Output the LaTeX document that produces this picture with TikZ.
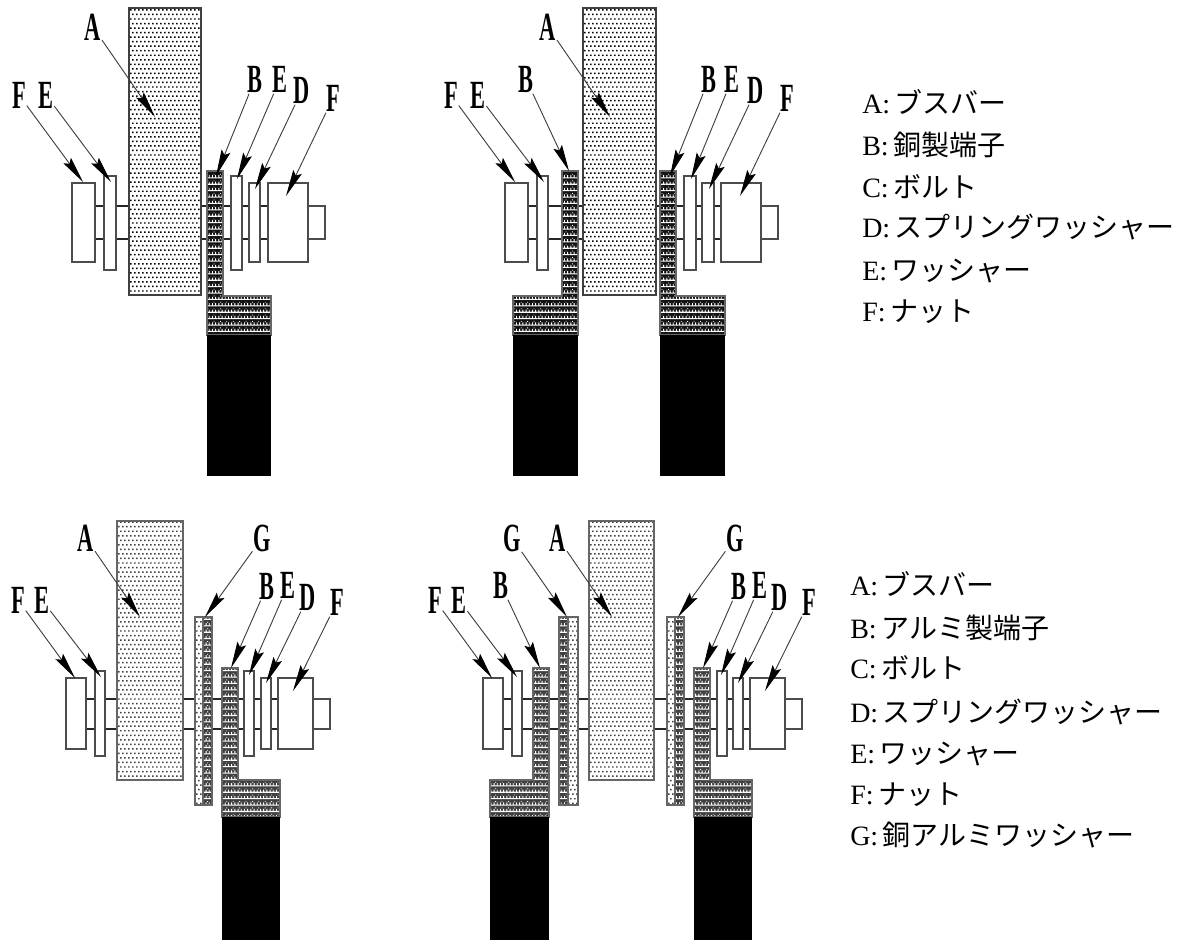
\documentclass[tikz,border=0pt]{standalone}
\usepackage{fontspec}
\setmainfont{Liberation Serif}
\newfontfamily\cjk{Noto Sans CJK JP}
\usetikzlibrary{arrows.meta,patterns}
\pgfdeclarepatternformonly{dotsA}{\pgfqpoint{-0.1pt}{-0.1pt}}{\pgfqpoint{3.1pt}{6.9pt}}{\pgfqpoint{3pt}{6.8pt}}{
  \pgfpathrectangle{\pgfqpoint{0pt}{0pt}}{\pgfqpoint{1.3pt}{1.1pt}}
  \pgfpathrectangle{\pgfqpoint{1.5pt}{3.4pt}}{\pgfqpoint{1.3pt}{1.1pt}}
  \pgfusepath{fill}}
\pgfdeclarepatternformonly{meshB}{\pgfqpoint{-0.1pt}{-0.1pt}}{\pgfqpoint{4.9pt}{4.9pt}}{\pgfqpoint{4.8pt}{4.8pt}}{
  \pgfpathrectangle{\pgfqpoint{0pt}{0pt}}{\pgfqpoint{4.8pt}{0.8pt}}
  \pgfpathrectangle{\pgfqpoint{0.6pt}{0.8pt}}{\pgfqpoint{0.7pt}{1.6pt}}
  \pgfpathrectangle{\pgfqpoint{3pt}{0.8pt}}{\pgfqpoint{0.7pt}{1.6pt}}
  \pgfpathrectangle{\pgfqpoint{1.8pt}{2.8pt}}{\pgfqpoint{0.6pt}{0.6pt}}
  \pgfusepath{fill}}
\tikzset{
  x=0.75pt,y=-0.75pt,
  part/.style={draw=black!70,line width=1pt,fill=white},
  bolt/.style={draw=black!85,line width=0.9pt},
  barA/.style={draw=black!75,line width=1pt,pattern=dotsA,pattern color=black},
  barB/.style={draw=black!60,line width=1pt,pattern=dotsA,pattern color=black!75},
  lbl/.style={font=\bfseries\fontsize{30}{30}\selectfont,xscale=.56,yscale=1,inner sep=1pt,text depth=0pt},
  ldr/.style={draw=black!75,line width=0.7pt,-{Stealth[length=20pt,width=7pt,inset=3pt,color=black]}},
  legend/.style={font=\fontsize{21}{24}\selectfont,anchor=base west,inner sep=0pt},
}
\newcommand{\meshfill}[2]{\fill[#1] #2; \fill[pattern=meshB,pattern color=white] #2; \draw[draw=black!60,line width=0.8pt] #2;}
\newcommand{\dotbar}[2]{\fill[white] #2; \draw[#1] #2;}
\newcommand{\cj}[1]{\kern3.5pt{\cjk #1}}
\begin{document}
\begin{tikzpicture}
\useasboundingbox (0,0) rectangle (1186,940);
% --- top left
\draw[bolt] (95,206) -- (308,206) (95,239) -- (308,239);
\draw[part] (72,183) rectangle (95,262);
\draw[part] (104,176) rectangle (116,270);
\dotbar{barA}{(129,8) rectangle (201,295)}
\meshfill{black!92}{(207,171) -- (223,171) -- (223,296) -- (271,296) -- (271,335) -- (207,335) -- cycle}
\fill[black] (207,335) rectangle (271,476);
\draw[part] (231,176) rectangle (242,270);
\draw[part] (249,183) rectangle (260,262);
\draw[part] (268,183) rectangle (308,262);
\draw[part] (308,206) rectangle (325,239);
% --- top right
\draw[bolt] (528,206) -- (761,206) (528,239) -- (761,239);
\draw[part] (505,183) rectangle (528,262);
\draw[part] (537,176) rectangle (548,270);
\dotbar{barA}{(583,8) rectangle (656,295)}
\meshfill{black!92}{(562,171) -- (578,171) -- (578,335) -- (513,335) -- (513,296) -- (562,296) -- cycle}
\fill[black] (513,335) rectangle (578,476);
\meshfill{black!92}{(660,171) -- (676,171) -- (676,296) -- (725,296) -- (725,335) -- (660,335) -- cycle}
\fill[black] (660,335) rectangle (725,476);
\draw[part] (684,176) rectangle (696,270);
\draw[part] (702,183) rectangle (714,262);
\draw[part] (721,183) rectangle (761,262);
\draw[part] (761,206) rectangle (778,239);
% --- bottom left
\draw[bolt] (86,699) -- (313,699) (86,729) -- (313,729);
\draw[part] (66,678) rectangle (86,749);
\draw[part] (95,671) rectangle (105,756);
\dotbar{barB}{(117,521) rectangle (183,780)}
\dotbar{barB}{(195,617) rectangle (203,805)}
\meshfill{black!75}{(203,617) rectangle (212,805)}
\meshfill{black!75}{(222,668) -- (238,668) -- (238,780) -- (280,780) -- (280,817) -- (222,817) -- cycle}
\fill[black] (222,817) rectangle (280,940);
\draw[part] (244,671) rectangle (254,756);
\draw[part] (261,678) rectangle (271,749);
\draw[part] (278,678) rectangle (313,749);
\draw[part] (313,699) rectangle (330,729);
% --- bottom right
\draw[bolt] (503,699) -- (785,699) (503,729) -- (785,729);
\draw[part] (483,678) rectangle (503,749);
\draw[part] (512,671) rectangle (522,756);
\meshfill{black!75}{(533,668) -- (549,668) -- (549,817) -- (490,817) -- (490,780) -- (533,780) -- cycle}
\fill[black] (490,817) rectangle (549,940);
\meshfill{black!75}{(559,617) rectangle (568,805)}
\dotbar{barB}{(568,617) rectangle (578,805)}
\dotbar{barB}{(589,521) rectangle (654,780)}
\dotbar{barB}{(667,617) rectangle (675,805)}
\meshfill{black!75}{(675,617) rectangle (684,805)}
\meshfill{black!75}{(694,668) -- (710,668) -- (710,780) -- (752,780) -- (752,817) -- (694,817) -- cycle}
\fill[black] (694,817) rectangle (752,940);
\draw[part] (717,671) rectangle (727,756);
\draw[part] (733,678) rectangle (743,749);
\draw[part] (750,678) rectangle (785,749);
\draw[part] (785,699) rectangle (802,729);
% --- labels and leaders
\foreach \n/\t/\lx/\ly/\tx/\ty in {
  a/A/93/27/155/117, b/F/19/95/83/182, c/E/46/95/111/182, d/B/255/79/216/176, e/E/280/79/237/179, f/D/302/90/255/189, g/F/333/98/286/196,
  h/A/548/27/610/117, i/F/451/95/515/182, j/E/478/95/544/182, k/B/526/79/569/171, l/B/709/79/670/176, m/E/732/79/691/179, n/D/756/90/709/189, o/F/787/98/740/196,
  p/A/86/538/140/617, q/G/262/538/205/617, r/F/18/600/75/678, s/E/42/600/101/677, t/B/267/586/231/668, u/E/288/585/249/675, v/D/308/597/266/683, w/F/337/602/293/691,
  A/G/512/538/567/617, B/A/558/538/612/617, C/F/435/600/492/678, D/E/459/600/517/677, E/B/501/585/540/668, F/G/735/538/678/617, G/B/739/586/703/668, H/E/760/585/721/675, I/D/780/597/738/683, J/F/809/602/765/691}{
  \node[lbl] (l\n) at (\lx,\ly) {\t};
  \coordinate (t\n) at (\tx,\ty);
  \draw[ldr] (l\n) -- (t\n);
}
% --- legends
\node[legend] (k1) at (862,113) {A:\cj{ブスバー}};
\node[legend] (k2) at (862,155) {B:\cj{銅製端子}};
\node[legend] (k3) at (862,197) {C:\cj{ボルト}};
\node[legend] (k4) at (862,237) {D:\cj{スプリングワッシャー}};
\node[legend] (k5) at (862,280) {E:\cj{ワッシャー}};
\node[legend] (k6) at (862,321) {F:\cj{ナット}};
\node[legend] (q1) at (850,595) {A:\cj{ブスバー}};
\node[legend] (q2) at (850,638) {B:\cj{アルミ製端子}};
\node[legend] (q3) at (850,678) {C:\cj{ボルト}};
\node[legend] (q4) at (850,722) {D:\cj{スプリングワッシャー}};
\node[legend] (q5) at (850,763) {E:\cj{ワッシャー}};
\node[legend] (q6) at (850,804) {F:\cj{ナット}};
\node[legend] (q7) at (850,845) {G:\cj{銅アルミワッシャー}};
\end{tikzpicture}
\end{document}
